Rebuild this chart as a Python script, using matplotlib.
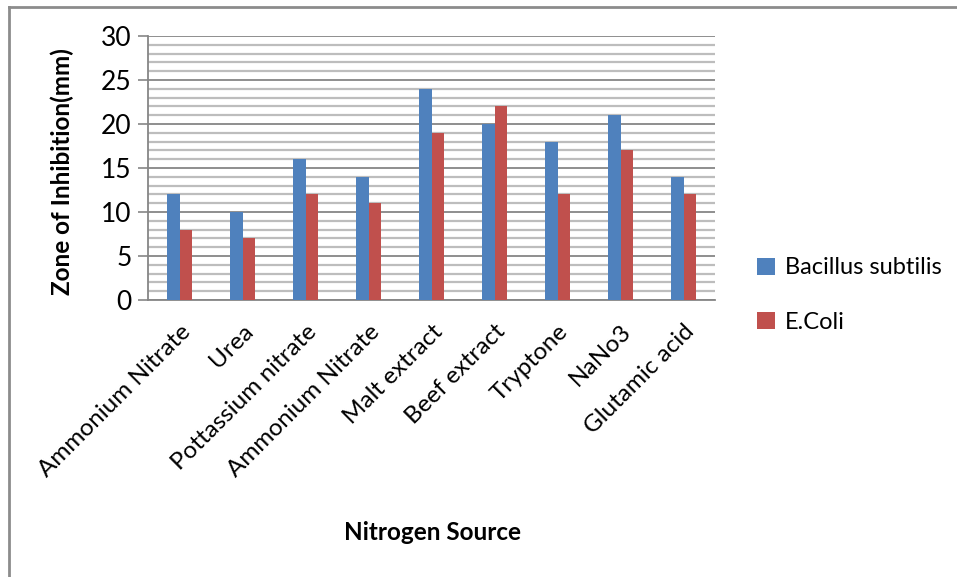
import matplotlib
matplotlib.use("Agg")
import matplotlib.pyplot as plt
import numpy as np
from matplotlib.lines import Line2D

categories = ["Ammonium Nitrate", "Urea", "Pottassium nitrate", "Ammonium Nitrate",
              "Malt extract", "Beef extract", "Tryptone", "NaNo3", "Glutamic acid"]
bacillus = [12, 10, 16, 14, 24, 20, 18, 21, 14]
ecoli = [8, 7, 12, 11, 19, 22, 12, 17, 12]
series_names = ["Bacillus subtilis", "E.Coli"]
colors = ["#4F81BD", "#C0504D"]

plt.rcParams["font.family"] = ["Lato", "DejaVu Sans"]

fig = plt.figure(figsize=(9.57, 5.77), dpi=100)
ax = fig.add_axes([148 / 957, 1 - 300 / 577, (715 - 148) / 957, (300 - 36) / 577])

x = np.arange(len(categories))
w = 0.2
ax.bar(x - w / 2, bacillus, width=w, color=colors[0], label=series_names[0], zorder=3)
ax.bar(x + w / 2, ecoli, width=w, color=colors[1], label=series_names[1], zorder=3)

ax.set_xlim(-0.5, len(categories) - 0.5)
ax.set_ylim(0, 30)
ax.set_yticks(np.arange(0, 31, 5))
ax.set_yticks(np.arange(0, 31, 1), minor=True)
ax.grid(axis="y", which="minor", color="#BDBDBD", linewidth=1.6, zorder=0)
ax.grid(axis="y", which="major", color="#868686", linewidth=1.3, zorder=1)
ax.tick_params(axis="y", which="major", length=7, width=1.2, color="#868686",
               labelsize=19, pad=5)
ax.tick_params(axis="y", which="minor", length=0)
ax.tick_params(axis="x", length=0, pad=15)

ax.set_xticks(x)
ax.set_xticklabels(categories, rotation=45, ha="right", rotation_mode="anchor",
                   fontsize=17.5)

for s in ["top", "right"]:
    ax.spines[s].set_visible(False)
for s in ["left", "bottom"]:
    ax.spines[s].set_color("#868686")
    ax.spines[s].set_linewidth(1.3)

fig.text(62 / 957, 1 - 172 / 577, "Zone of Inhibition(mm)", fontsize=17.5,
         fontweight="bold", rotation=90, ha="center", va="center")
fig.text(432 / 957, 1 - 533 / 577, "Nitrogen Source", fontsize=17.5, fontweight="bold",
         ha="center", va="center")

ax.legend(loc="center left", bbox_to_anchor=(757 / 957, 1 - 295 / 577),
          bbox_transform=fig.transFigure, frameon=False, fontsize=17,
          borderaxespad=0, borderpad=0,
          handlelength=0.75, handleheight=0.75, handletextpad=0.45, labelspacing=1.4)

# outer frame (left and top edges)
fig.add_artist(Line2D([9 / 957, 9 / 957], [0, 1 - 7 / 577], transform=fig.transFigure,
                      color="#8C8C8C", linewidth=2))
fig.add_artist(Line2D([9 / 957, 1], [1 - 7 / 577, 1 - 7 / 577], transform=fig.transFigure,
                      color="#8C8C8C", linewidth=2))

fig.savefig("out.png", dpi=100)
